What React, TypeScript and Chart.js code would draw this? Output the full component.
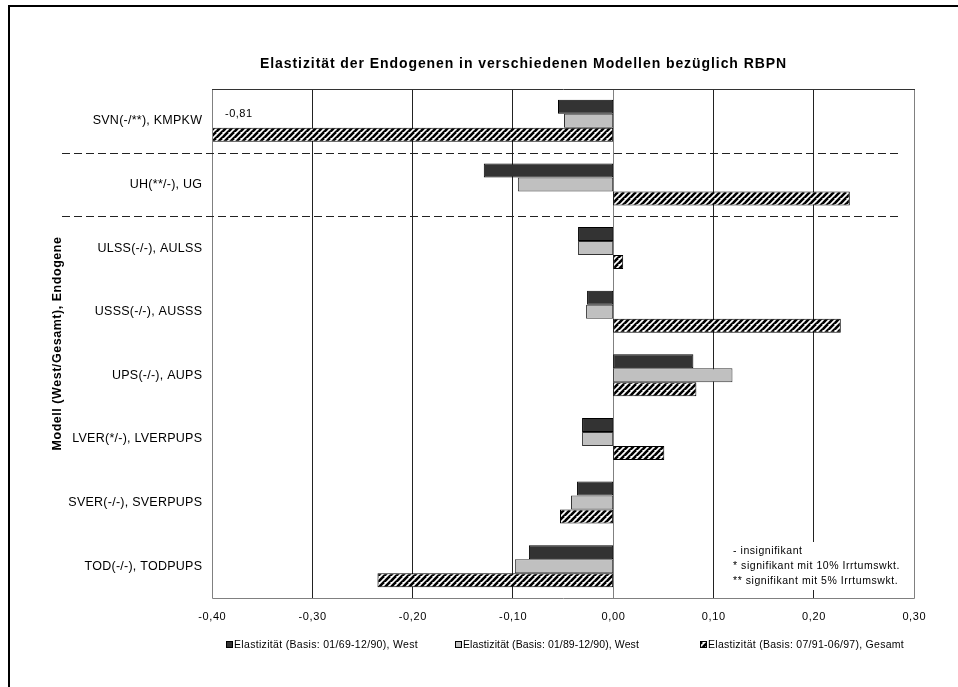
import React, { useEffect, useRef } from "react";
import { Chart, registerables } from "chart.js";

Chart.register(...registerables);

const categories = [
  "SVN(-/**), KMPKW",
  "UH(**/-), UG",
  "ULSS(-/-), AULSS",
  "USSS(-/-), AUSSS",
  "UPS(-/-), AUPS",
  "LVER(*/-), LVERPUPS",
  "SVER(-/-), SVERPUPS",
  "TOD(-/-), TODPUPS",
];
const west6990 = [-0.055, -0.129, -0.035, -0.026, 0.08, -0.031, -0.036, -0.084];
const west8990 = [-0.049, -0.095, -0.035, -0.027, 0.119, -0.031, -0.042, -0.098];
const gesamt9197 = [-0.81, 0.236, 0.01, 0.227, 0.083, 0.051, -0.053, -0.235];
const seriesLabels = [
  "Elastizität (Basis: 01/69-12/90), West",
  "Elastizität (Basis: 01/89-12/90), West",
  "Elastizität (Basis: 07/91-06/97), Gesamt",
];
const notes = [
  "- insignifikant",
  "* signifikant mit 10% Irrtumswkt.",
  "** signifikant mit 5% Irrtumswkt.",
];
const xMin = -0.4;
const xMax = 0.3;
const xStep = 0.1;
const titleText = "Elastizität der Endogenen in verschiedenen Modellen bezüglich RBPN";
const yTitleText = "Modell (West/Gesamt), Endogene";
const separatorsAfter = [0, 1];

const FONT = "'Liberation Sans', Arial, sans-serif";
const W = 958;
const H = 687;

function fmt(v: number) {
  const r = Math.abs(v) < 1e-9 ? 0 : v;
  return r.toFixed(2).replace(".", ",");
}

function makeHatch(): CanvasPattern | string {
  const c = document.createElement("canvas");
  c.width = 6;
  c.height = 6;
  const g = c.getContext("2d");
  if (!g) return "#888";
  g.fillStyle = "#fff";
  g.fillRect(0, 0, 6, 6);
  g.strokeStyle = "#000";
  g.lineWidth = 2.6;
  for (let o = -6; o <= 12; o += 6) {
    g.beginPath();
    g.moveTo(o - 6, 12);
    g.lineTo(o + 6, 0);
    g.stroke();
  }
  const p = g.createPattern(c, "repeat");
  return p || "#888";
}

// draw text with letter spacing so it spans a target width
function textFit(ctx: any, t: string, x: number, y: number, width: number) {
  ctx.letterSpacing = "0px";
  const w0 = ctx.measureText(t).width;
  const sp = Math.max(0, (width - w0) / t.length);
  ctx.letterSpacing = sp + "px";
  ctx.fillText(t, x, y);
  ctx.letterSpacing = "0px";
}

function textSp(ctx: any, t: string, x: number, y: number, sp: number, align: string) {
  ctx.letterSpacing = sp + "px";
  const w = ctx.measureText(t).width;
  ctx.textAlign = "left";
  let sx = x;
  if (align === "right") sx = x - w + sp;
  else if (align === "center") sx = x - (w - sp) / 2;
  ctx.fillText(t, sx, y);
  ctx.letterSpacing = "0px";
}

export default function App() {
  const ref = useRef<HTMLCanvasElement | null>(null);

  useEffect(() => {
    const canvas = ref.current;
    if (!canvas) return;
    const hatch = makeHatch();
    const fills = ["#333333", "#c0c0c0", hatch];

    const decor = {
      id: "decor",
      beforeDraw(chart: any) {
        const ctx = chart.ctx;
        ctx.save();
        ctx.fillStyle = "#fff";
        ctx.fillRect(0, 0, W, H);
        ctx.fillStyle = "#000";
        ctx.fillRect(8, 5, W, 2);
        ctx.fillRect(8, 5, 2, H);
        ctx.restore();
      },
      afterDraw(chart: any) {
        const ctx = chart.ctx;
        const a = chart.chartArea;
        const ys = chart.scales.y;
        const xs = chart.scales.x;
        ctx.save();
        // plot border
        ctx.lineWidth = 1;
        ctx.strokeStyle = "#808080";
        ctx.beginPath();
        ctx.moveTo(a.left + 0.5, a.top);
        ctx.lineTo(a.left + 0.5, a.bottom + 0.5);
        ctx.lineTo(a.right + 0.5, a.bottom + 0.5);
        ctx.lineTo(a.right + 0.5, a.top);
        ctx.stroke();
        ctx.strokeStyle = "#333";
        ctx.beginPath();
        ctx.moveTo(a.left, a.top + 0.5);
        ctx.lineTo(a.right + 1, a.top + 0.5);
        ctx.stroke();

        // dashed separators
        ctx.strokeStyle = "#222";
        ctx.setLineDash([8, 4]);
        separatorsAfter.forEach((i) => {
          const y = Math.round((ys.getPixelForValue(i) + ys.getPixelForValue(i + 1)) / 2) + 0.5;
          ctx.beginPath();
          ctx.moveTo(62, y);
          ctx.lineTo(902, y);
          ctx.stroke();
        });
        ctx.setLineDash([]);

        ctx.fillStyle = "#000";
        ctx.textBaseline = "middle";

        // title
        ctx.font = `bold 14px ${FONT}`;
        ctx.textAlign = "left";
        textFit(ctx, titleText, 260, 64, 527);

        // y title
        ctx.save();
        ctx.translate(58, (a.top + a.bottom) / 2 + 107);
        ctx.rotate(-Math.PI / 2);
        ctx.font = `bold 12.5px ${FONT}`;
        ctx.textAlign = "left";
        textFit(ctx, yTitleText, 0, 0, 214);
        ctx.restore();

        // category labels
        ctx.font = `12.5px ${FONT}`;
        categories.forEach((c, i) => {
          textSp(ctx, c, a.left - 10, ys.getPixelForValue(i), 0.25, "right");
        });

        // x tick labels
        ctx.font = `11px ${FONT}`;
        xs.ticks.forEach((t: any) => {
          textSp(ctx, fmt(t.value), xs.getPixelForValue(t.value), a.bottom + 19, 0.6, "center");
        });

        // clipped value label
        const clippedIdx = gesamt9197.findIndex((v) => v < xMin);
        if (clippedIdx >= 0) {
          ctx.font = `11px ${FONT}`;
          textSp(ctx, fmt(gesamt9197[clippedIdx]), a.left + 13, ys.getPixelForValue(clippedIdx) - 7, 0.5, "left");
        }

        // notes box
        ctx.fillStyle = "#fff";
        ctx.fillRect(729, 542, 180, 48);
        ctx.fillStyle = "#000";
        ctx.font = `10.5px ${FONT}`;
        notes.forEach((t, i) => textSp(ctx, t, 733, 551 + i * 15, 0.55, "left"));

        // legend
        const lx = [226, 455, 700];
        const lw = [184, 176, 196];
        ctx.font = `10.5px ${FONT}`;
        seriesLabels.forEach((t, i) => {
          ctx.fillStyle = fills[i] as any;
          ctx.fillRect(lx[i], 641, 7, 7);
          ctx.strokeStyle = "#000";
          ctx.lineWidth = 1;
          ctx.strokeRect(lx[i] + 0.5, 641.5, 6, 6);
          ctx.fillStyle = "#000";
          ctx.textAlign = "left";
          textFit(ctx, t, lx[i] + 8, 645, lw[i]);
        });
        ctx.restore();
      },
    };

    const chart = new Chart(canvas, {
      type: "bar",
      data: {
        labels: categories,
        datasets: [
          { label: seriesLabels[0], data: west6990, backgroundColor: fills[0] as any, borderColor: "#000" },
          { label: seriesLabels[1], data: west8990, backgroundColor: fills[1] as any, borderColor: "#333" },
          { label: seriesLabels[2], data: gesamt9197, backgroundColor: fills[2] as any, borderColor: "#000" },
        ],
      },
      options: {
        indexAxis: "y",
        responsive: false,
        animation: false,
        devicePixelRatio: 1,
        datasets: {
          bar: {
            borderWidth: 1,
            borderSkipped: false,
            categoryPercentage: 0.66,
            barPercentage: 1,
          },
        } as any,
        layout: { padding: { top: 89, right: 44, bottom: 0, left: 0 } },
        plugins: {
          legend: { display: false },
          title: { display: false },
          tooltip: { enabled: false },
        },
        scales: {
          x: {
            type: "linear",
            min: xMin,
            max: xMax,
            border: { display: false },
            grid: {
              drawTicks: false,
              color: (c: any) => {
                const v = c.tick ? c.tick.value : 0;
                if (Math.abs(v) < 1e-9 || Math.abs(v - xMin) < 1e-9 || Math.abs(v - xMax) < 1e-9) return "#808080";
                return "#222";
              },
            },
            ticks: {
              display: false,
              stepSize: xStep,
            },
            afterFit: (s: any) => {
              s.height = 89;
            },
          },
          y: {
            type: "category",
            border: { display: false },
            grid: { display: false, drawTicks: false },
            ticks: { display: false },
            afterFit: (s: any) => {
              s.width = 212;
            },
          },
        },
      },
      plugins: [decor],
    } as any);

    return () => chart.destroy();
  }, []);

  return (
    <div style={{ position: "fixed", left: 0, top: 0, width: W, height: H, background: "#fff" }}>
      <canvas ref={ref} width={W} height={H} style={{ display: "block" }} />
    </div>
  );
}
